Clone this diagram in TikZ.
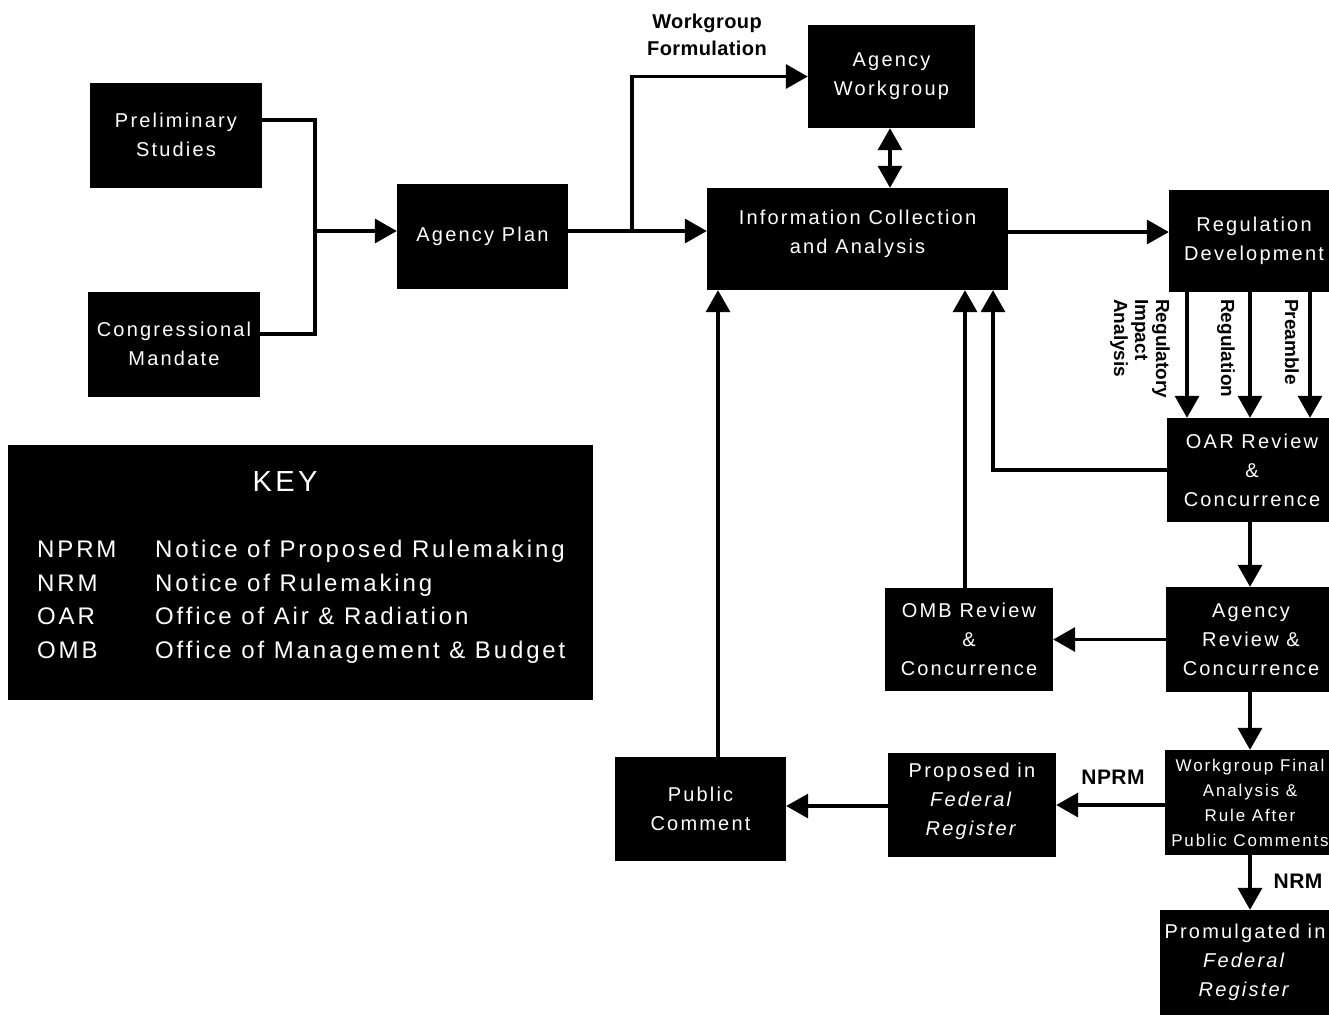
\documentclass[tikz,border=0pt]{standalone}
\usepackage{fontspec}
\setmainfont{Liberation Sans}
\newfontfamily\bxfont[LetterSpace=11]{Liberation Sans}
\newfontfamily\keyfont[LetterSpace=12]{Liberation Sans}
\newfontfamily\lblfont[LetterSpace=2]{Liberation Sans}
\usetikzlibrary{arrows.meta}
\begin{document}
\begin{tikzpicture}[x=1pt,y=-1pt,
  box/.style={fill=black,draw=none,text=white,inner sep=0pt,align=center,
    font=\bxfont\fontsize{20}{29}\selectfont},
  keytxt/.style={text=white,inner sep=0pt,font=\keyfont\fontsize{24}{28}\selectfont},
  lbl/.style={inner sep=0pt,align=center,font=\lblfont\bfseries\fontsize{20}{27}\selectfont},
  rot/.style={inner sep=0pt,rotate=-90,align=left,font=\bfseries\fontsize{19}{21}\selectfont},
  ln/.style={line width=3.5pt},
  arr/.style={line width=3.5pt,-{Triangle[length=22pt,width=24pt]}},
  darr/.style={line width=3.5pt,{Triangle[length=22pt,width=24pt]}-{Triangle[length=22pt,width=24pt]}}]
\useasboundingbox (0,0) rectangle (1329,1015);
\fill[white] (0,0) rectangle (1329,1015);

% boxes
\node[box,minimum width=172pt,minimum height=105pt] (prelim) at (176,135) {Preliminary\\Studies};
\node[box,minimum width=172pt,minimum height=105pt] (congress) at (174,344) {Congressional\\Mandate};
\node[box,minimum width=171pt,minimum height=105pt] (plan) at (482.5,236.5) {Agency Plan};
\node[box,minimum width=167pt,minimum height=103pt] (wg) at (891.5,76.5) {Agency\\Workgroup};
\node[box,minimum width=301pt,minimum height=102pt] (info) at (857.5,239) {Information Collection\\and Analysis\\[-15pt]};
\node[box,minimum width=170pt,minimum height=102pt] (regdev) at (1254,241) {Regulation\\Development};
\node[box,minimum width=170pt,minimum height=104pt] (oar) at (1252,470) {OAR Review\\\&\\Concurrence};
\node[box,minimum width=170pt,minimum height=105pt] (agrev) at (1251,639.5) {Agency\\Review \&\\Concurrence};
\node[box,minimum width=168pt,minimum height=103pt] (omb) at (969,639.5) {OMB Review\\\&\\Concurrence};
\node[box,minimum width=170pt,minimum height=105pt,font=\bxfont\fontsize{17}{25}\selectfont] (final) at (1250,802.5) {Workgroup Final\\Analysis \&\\Rule After\\Public Comments};
\node[box,minimum width=168pt,minimum height=104pt] (prop) at (972,805) {Proposed in\\\textit{Federal}\\\textit{Register}\\[-17pt]};
\node[box,minimum width=171pt,minimum height=104pt] (pub) at (700.5,809) {Public\\Comment};
\node[box,minimum width=170pt,minimum height=105pt] (prom) at (1245,962.5) {Promulgated in\\\textit{Federal}\\\textit{Register}};

% key
\node[fill=black,minimum width=585pt,minimum height=255pt,inner sep=0pt] (key) at (300.5,572.5) {};
\node[keytxt,font=\keyfont\fontsize{29}{30}\selectfont,anchor=base] (keyt) at (285,491) {KEY};
\node[keytxt,anchor=base west] (k1a) at (37,557) {NPRM};
\node[keytxt,anchor=base west] (k1b) at (155,557) {Notice of Proposed Rulemaking};
\node[keytxt,anchor=base west] (k2a) at (37,591) {NRM};
\node[keytxt,anchor=base west] (k2b) at (155,591) {Notice of Rulemaking};
\node[keytxt,anchor=base west] (k3a) at (37,624) {OAR};
\node[keytxt,anchor=base west] (k3b) at (155,624) {Office of Air \& Radiation};
\node[keytxt,anchor=base west] (k4a) at (37,658) {OMB};
\node[keytxt,anchor=base west] (k4b) at (155,658) {Office of Management \& Budget};

% labels
\node[lbl] (wf) at (707,35) {Workgroup\\Formulation};
\node[rot,anchor=west] (ria) at (1140,299) {Regulatory\\Impact\\Analysis};
\node[rot,anchor=west] (rreg) at (1226,299) {Regulation};
\node[rot,anchor=west] (rpre) at (1292,299) {Preamble};
\node[lbl,font=\lblfont\bfseries\fontsize{21}{27}\selectfont] (nprm) at (1113,777) {NPRM};
\node[lbl,font=\lblfont\bfseries\fontsize{21}{27}\selectfont] (nrm) at (1298,881) {NRM};

% junction coordinates
\coordinate (j1) at (315,231);
\coordinate (j2) at (632,231);
\coordinate (y1) at (0,232);
\coordinate (xa) at (1187,0);
\coordinate (xb) at (1250,0);
\coordinate (xc) at (1310,0);
\coordinate (xo) at (993,0);
\coordinate (xm) at (965,0);
\coordinate (xp) at (718,0);
\coordinate (xw) at (890,0);
\coordinate (y2) at (0,805);
\coordinate (y3) at (0,806);

% connectors
\draw[ln] ([yshift=15pt]prelim.east) -| (j1);
\draw[ln] ([yshift=10pt]congress.east) -| (j1);
\draw[arr] (j1) -- (plan.west |- j1);
\draw[arr] (plan.east |- j2) -- (info.west |- j2);
\draw[arr] (j2) |- (wg.west);
\draw[darr] (wg.south -| xw) -- (info.north -| xw);
\draw[arr] (info.east |- y1) -- (regdev.west |- y1);
\draw[arr] (regdev.south -| xa) -- (oar.north -| xa);
\draw[arr] (regdev.south -| xb) -- (oar.north -| xb);
\draw[arr] (regdev.south -| xc) -- (oar.north -| xc);
\draw[arr] (oar.west) -| (info.south -| xo);
\draw[arr] (oar.south -| xb) -- (agrev.north -| xb);
\draw[arr] (agrev.west) -- (omb.east);
\draw[arr] (omb.north -| xm) -- (info.south -| xm);
\draw[arr] (agrev.south -| final.south) -- (final.north);
\draw[arr] (final.west |- y2) -- (prop.east |- y2);
\draw[arr] (prop.west |- y3) -- (pub.east |- y3);
\draw[arr] (pub.north -| xp) -- (info.south -| xp);
\draw[arr] (final.south) -- (final.south |- prom.north);
\end{tikzpicture}
\end{document}
